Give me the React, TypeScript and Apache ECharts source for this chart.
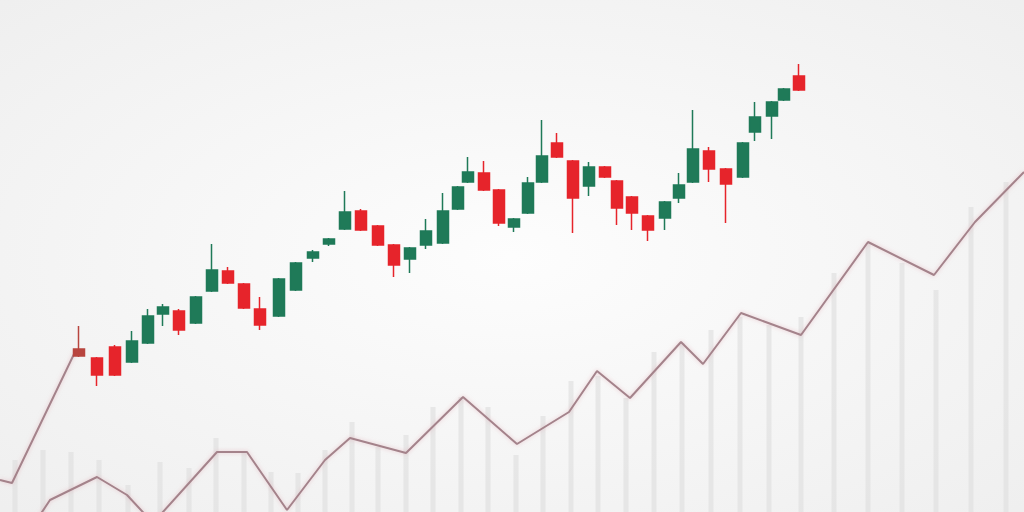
import React, { useEffect, useRef } from "react";
import * as echarts from "echarts";

// Candles: x position, open, close, low, high (price units)
const candleX = [79, 97, 115, 132, 148, 163, 179, 196, 212, 228, 244, 260, 279, 296, 313, 329, 345, 361, 378, 394, 410, 426, 443, 458, 468, 484, 499, 514, 528, 542, 557, 573, 589, 605, 617, 632, 648, 665, 679, 693, 709, 726, 743, 755, 772, 784, 799];
const candleOpen = [163, 154, 165, 150, 169, 198, 201, 189, 221, 241, 228, 203, 196, 222, 254, 268, 283, 301, 286, 267, 253, 267, 269, 303, 330, 339, 322, 285, 299, 330, 369, 351, 326, 345, 331, 315, 296, 294, 314, 330, 361, 343, 335, 380, 396, 412, 436];
const candleClose = [156, 137, 137, 171, 196, 205, 182, 215, 242, 229, 204, 187, 233, 249, 260, 273, 300, 282, 267, 247, 264, 281, 301, 325, 340, 322, 289, 293, 329, 356, 355, 314, 345, 335, 304, 299, 282, 310, 327, 363, 343, 328, 369, 395, 410, 423, 422];
const candleLow = [155, 126, 136, 149, 168, 186, 177, 188, 220, 228, 203, 182, 195, 221, 250, 266, 282, 281, 266, 235, 239, 263, 268, 302, 329, 321, 286, 280, 298, 329, 354, 279, 316, 334, 287, 282, 271, 282, 309, 329, 330, 289, 334, 371, 373, 411, 421];
const candleHigh = [186, 155, 167, 181, 203, 208, 203, 216, 268, 245, 229, 215, 234, 250, 262, 274, 321, 303, 287, 268, 265, 293, 319, 326, 355, 351, 323, 294, 335, 392, 379, 352, 350, 346, 332, 316, 297, 311, 339, 402, 365, 344, 370, 410, 411, 424, 448];

// Trend line segments
const lineAX = [0, 12, 75];
const lineAY = [32, 29, 160];
const lineBX = [30, 50, 97, 127, 153, 217, 247, 287, 325, 350, 406, 463, 517, 569, 597, 630, 681, 703, 741, 801, 868, 934, 975, 1024];
const lineBY = [-18, 12, 35, 17, -11, 60, 60, 2, 52, 74, 59, 115, 68, 100, 141, 114, 170, 148, 199, 177, 270, 237, 290, 340];

// Background volume bars
const barX = [15, 43, 71, 99, 128, 160, 189, 216, 244, 271, 298, 325, 352, 378, 406, 433, 461, 488, 516, 543, 571, 598, 626, 654, 682, 711, 740, 769, 801, 834, 868, 902, 936, 971, 1006];
const barV = [52, 62, 60, 52, 27, 50, 44, 74, 60, 40, 39, 62, 90, 65, 77, 105, 115, 105, 57, 96, 131, 136, 114, 160, 169, 182, 195, 187, 195, 239, 269, 249, 222, 305, 330];

export default function App() {
  const ref = useRef<HTMLDivElement>(null);
  useEffect(() => {
    document.body.style.margin = "0";
    const chart = echarts.init(ref.current!, undefined, { renderer: "svg" });
    const candleData = candleX.map((x, i) => {
      const item: any = { value: [x, candleOpen[i], candleClose[i], candleLow[i], candleHigh[i]] };
      if (i === 0) item.itemStyle = { color0: "#b8453f", borderColor0: "#b8453f" };
      return item;
    });
    chart.setOption({
      animation: false,
      backgroundColor: {
        type: "radial", x: 0.5, y: 0.5, r: 0.75,
        colorStops: [
          { offset: 0, color: "#fdfdfd" },
          { offset: 1, color: "#eeeeee" },
        ],
      },
      grid: { left: 0, right: 0, top: 0, bottom: 0 },
      xAxis: { type: "value", min: 0, max: 1024, show: false },
      yAxis: { type: "value", min: 0, max: 512, show: false },
      series: [
        {
          type: "bar",
          z: 1,
          barWidth: 5,
          data: barX.map((x, i) => [x, barV[i]]),
          itemStyle: { color: "rgba(222,222,222,0.65)" },
          silent: true,
        },
        {
          type: "line",
          z: 2,
          data: lineAX.map((x, i) => [x, lineAY[i]]),
          symbol: "none",
          lineStyle: { color: "#a4838b", width: 2, shadowBlur: 4, shadowColor: "rgba(220,160,170,0.6)" },
        },
        {
          type: "line",
          z: 2,
          data: lineBX.map((x, i) => [x, lineBY[i]]),
          symbol: "none",
          lineStyle: { color: "#a4838b", width: 2, shadowBlur: 4, shadowColor: "rgba(220,160,170,0.6)" },
        },
        {
          type: "candlestick",
          z: 3,
          barWidth: 12,
          data: candleData,
          itemStyle: {
            color: "#1f7a58",
            color0: "#e6242b",
            borderColor: "#1f7a58",
            borderColor0: "#e6242b",
            borderWidth: 1.5,
          },
        },
      ],
    });
    return () => chart.dispose();
  }, []);
  return <div ref={ref} style={{ width: 1024, height: 512 }} />;
}
